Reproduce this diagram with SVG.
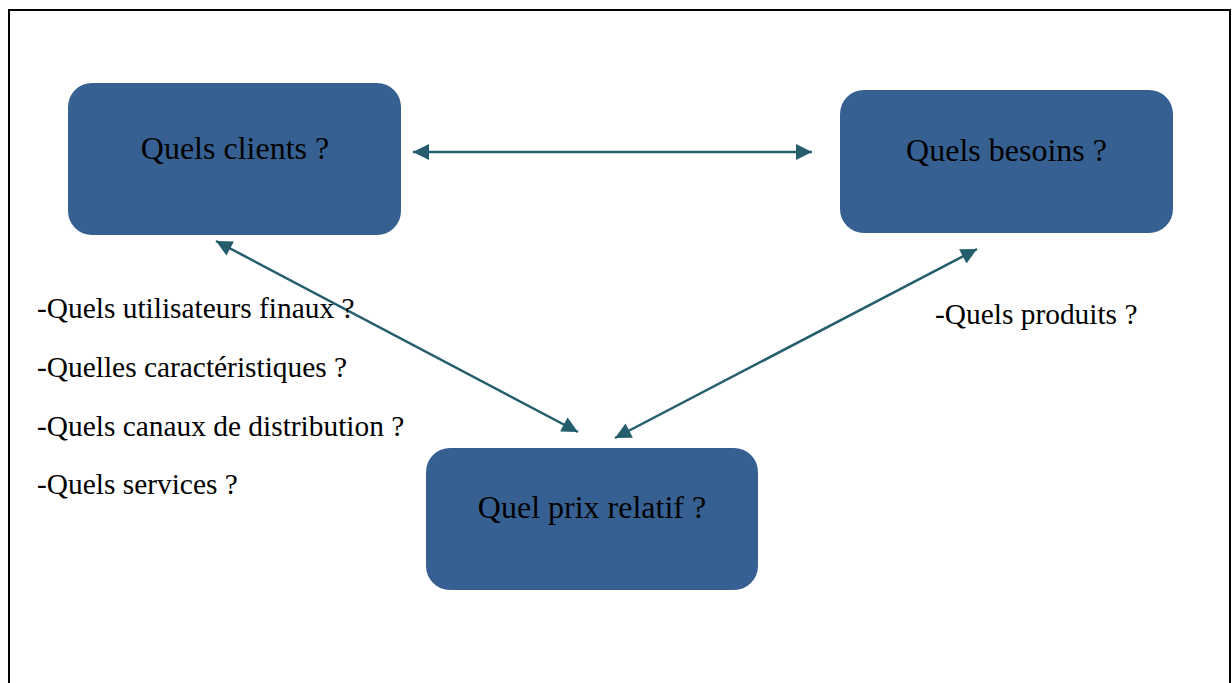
<svg xmlns="http://www.w3.org/2000/svg" width="1232" height="683" viewBox="0 0 1232 683">
<style>
.box{fill:#376092;}
.lbl{font-family:"Liberation Serif","Times New Roman",serif;font-size:32px;fill:#000;text-anchor:middle;}
.side{font-family:"Liberation Serif","Times New Roman",serif;font-size:29.4px;fill:#000;}
.con{stroke:#245e6c;stroke-width:2.5;fill:none;marker-start:url(#ah);marker-end:url(#ah);}
</style>
<defs>
<marker id="ah" viewBox="0 0 10 10" refX="10" refY="5" markerWidth="6.8" markerHeight="6.4" orient="auto-start-reverse" markerUnits="strokeWidth">
<path d="M0,0 L10,5 L0,10 z" fill="#245e6c"/>
</marker>
</defs>
<rect x="0" y="0" width="1232" height="683" fill="#fff"/>
<path d="M9,700 V10 H1230 V700" fill="none" stroke="#000" stroke-width="2"/>
<g id="connectors">
<line class="con" x1="413" y1="152" x2="812" y2="152"/>
<line class="con" x1="216" y1="241" x2="578" y2="432"/>
<line class="con" x1="977" y1="249" x2="615" y2="438"/>
</g>
<g id="node-clients">
<rect class="box" x="68" y="83" width="333" height="152" rx="24"/>
<text class="lbl" x="235" y="159">Quels clients ?</text>
</g>
<g id="node-besoins">
<rect class="box" x="840" y="90" width="333" height="143" rx="24"/>
<text class="lbl" x="1006.5" y="161">Quels besoins ?</text>
</g>
<g id="node-prix">
<rect class="box" x="426" y="448" width="332" height="142" rx="24"/>
<text class="lbl" x="592" y="518">Quel prix relatif ?</text>
</g>
<g id="notes-clients">
<text class="side" x="37" y="318">-Quels utilisateurs finaux ?</text>
<text class="side" x="37" y="377">-Quelles caractéristiques ?</text>
<text class="side" x="37" y="436">-Quels canaux de distribution ?</text>
<text class="side" x="37" y="494">-Quels services ?</text>
</g>
<g id="notes-besoins">
<text class="side" x="935" y="324">-Quels produits ?</text>
</g>
</svg>
